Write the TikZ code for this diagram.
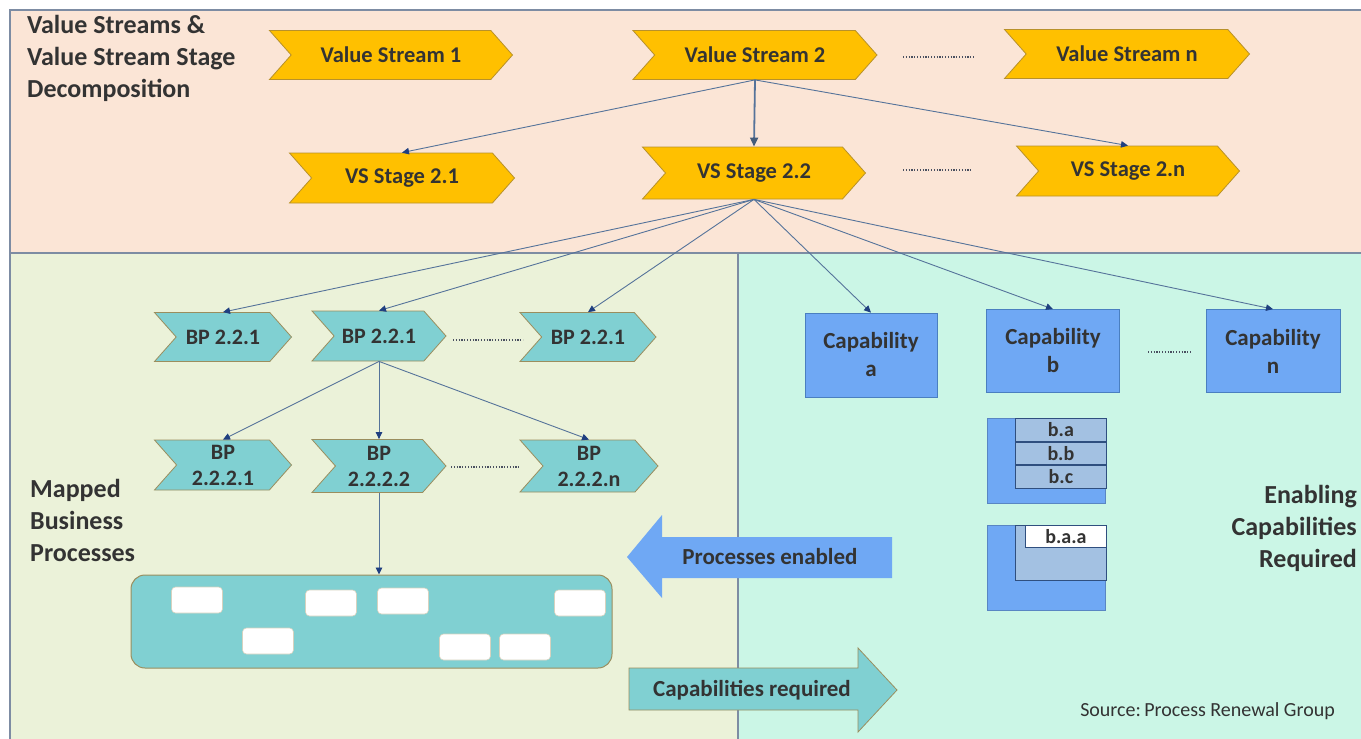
\documentclass[tikz,border=0pt]{standalone}
\usepackage{fontspec}
\setmainfont{Carlito}
\usetikzlibrary{shapes.symbols,arrows.meta}
\definecolor{peach}{HTML}{FBE5D6}
\definecolor{lgreen}{HTML}{EBF2D9}
\definecolor{mint}{HTML}{CBF6E6}
\definecolor{gold}{HTML}{FFC000}
\definecolor{goldline}{HTML}{B8912A}
\definecolor{tealf}{HTML}{80D0D2}
\definecolor{tealline}{HTML}{9A8E5E}
\definecolor{capblue}{HTML}{6FA8F4}
\definecolor{capline}{HTML}{4A7FC0}
\definecolor{subblue}{HTML}{A3C1E2}
\definecolor{subline}{HTML}{2F4F7F}
\definecolor{conn}{HTML}{55739A}
\definecolor{tipc}{HTML}{1F3F80}
\definecolor{framec}{HTML}{7D8CA3}
\definecolor{txt}{HTML}{333333}
\definecolor{dotc}{HTML}{4A5060}
\begin{document}
\begin{tikzpicture}[x=1pt,y=-1pt,
  chev/.style={signal, signal to=east, signal from=west, signal pointer angle=97,
    draw, inner sep=0pt, line width=0.8pt, text=txt, align=center},
  vschev/.style={chev, fill=gold, draw=goldline, font=\bfseries\fontsize{22.5}{26}\selectfont},
  bpchev/.style={chev, fill=tealf, draw=tealline, font=\bfseries\fontsize{22}{26}\selectfont},
  capbox/.style={draw=capline, fill=capblue, line width=0.8pt, minimum width=132pt,
    minimum height=84pt, inner sep=0pt, text=txt, align=center,
    font=\bfseries\fontsize{23}{28}\selectfont},
  wbox/.style={draw=tealline!40, fill=white, rounded corners=4pt, minimum width=51pt,
    minimum height=26pt, inner sep=0pt, line width=0.6pt},
  subbox/.style={draw=subline, fill=subblue, line width=0.8pt, inner sep=0pt,
    text=txt, font=\bfseries\fontsize{20}{20}\selectfont},
  conn/.style={draw=conn, line width=0.9pt, -{Triangle[length=7pt,width=6.5pt,color=tipc]}},
  dots/.style={draw=dotc, line width=2pt, dash pattern=on 1.2pt off 1.6pt},
  head/.style={text=txt, align=left, inner sep=0pt, font=\bfseries\fontsize{26}{32}\selectfont},
  lbl/.style={text=txt, inner sep=0pt, font=\bfseries\fontsize{23}{26}\selectfont}
]
\useasboundingbox (0,0) rectangle (1361,739);
% backgrounds
\fill[peach] (10,10) rectangle (1361,253);
\fill[lgreen] (10,253) rectangle (738,739);
\fill[mint] (738,253) rectangle (1361,739);
\draw[framec, line width=1.2pt] (1361,10) -- (10,10) -- (10,739);
\draw[framec, line width=1.2pt] (10,253) -- (1361,253);
\draw[framec, line width=1.2pt] (738,253) -- (738,739);

% headings
\node[head, anchor=north west] (h1) at (27,15) {Value Streams \&\\Value Stream Stage\\Decomposition};
\node[head, anchor=north west] (h2) at (30,479) {Mapped\\Business\\Processes};
\node[head, anchor=north east, align=right] (h3) at (1357,485) {Enabling\\Capabilities\\Required};
\node[text=txt, inner sep=0pt, anchor=east, font=\fontsize{20}{22}\selectfont] (src) at (1335,711) {Source:\,Process Renewal Group};

% value streams
\node[vschev, minimum width=243pt, minimum height=49pt] (vs1) at (391,55) {Value Stream 1};
\node[vschev, minimum width=244pt, minimum height=49pt] (vs2) at (755,55) {Value Stream 2};
\node[vschev, minimum width=245pt, minimum height=49pt] (vsn) at (1127,54) {Value Stream n};
\node[vschev, minimum width=225pt, minimum height=50pt] (st1) at (402,178) {VS Stage 2.1};
\node[vschev, minimum width=223pt, minimum height=52pt] (st2) at (754,173) {VS Stage 2.2};
\node[vschev, minimum width=223pt, minimum height=50pt] (stn) at (1128,171) {VS Stage 2.n};

\coordinate (d1a) at (903,57); \coordinate (d1b) at (975,57);
\coordinate (d2a) at (903,170); \coordinate (d2b) at (971,170);
\draw[dots] (d1a) -- (d1b);
\draw[dots] (d2a) -- (d2b);

% business processes
\node[bpchev, minimum width=137pt, minimum height=49pt] (bp1) at (223,337) {BP 2.2.1};
\node[bpchev, minimum width=134pt, minimum height=50pt] (bp2) at (379,336) {BP 2.2.1};
\node[bpchev, minimum width=136pt, minimum height=49pt] (bp3) at (588,337) {BP 2.2.1};
\node[bpchev, minimum width=137pt, minimum height=50pt] (bq1) at (223,465) {BP\\2.2.2.1};
\node[bpchev, minimum width=134pt, minimum height=53pt] (bq2) at (379,466) {BP\\2.2.2.2};
\node[bpchev, minimum width=138pt, minimum height=52pt] (bq3) at (589,466) {BP\\2.2.2.n};
\coordinate (d3a) at (453,340); \coordinate (d3b) at (523,340);
\coordinate (d4a) at (451,467); \coordinate (d4b) at (520,467);
\draw[dots] (d3a) -- (d3b);
\draw[dots] (d4a) -- (d4b);

% process container
\node[draw=tealline, fill=tealf, rounded corners=14pt, line width=1pt,
  minimum width=481pt, minimum height=93pt, inner sep=0pt] (cont) at (371.5,621.5) {};
\node[wbox] (w1) at (197,600) {};
\node[wbox] (w2) at (331,603) {};
\node[wbox] (w3) at (403,601) {};
\node[wbox] (w4) at (580,603) {};
\node[wbox] (w5) at (268,641) {};
\node[wbox] (w6) at (465,647) {};
\node[wbox] (w7) at (525,647) {};

% capabilities
\node[capbox] (capa) at (871,355) {Capability\\a};
\node[capbox, minimum width=133pt, minimum height=83pt] (capb) at (1053,351) {Capability\\b};
\node[capbox, minimum width=134pt, minimum height=83pt] (capn) at (1273,351) {Capability\\n};
\coordinate (d5a) at (1148,352); \coordinate (d5b) at (1191,352);
\draw[dots] (d5a) -- (d5b);

% sub-capabilities b
\node[fill=capblue, draw=capblue!80!black, line width=0.6pt, minimum width=118pt,
  minimum height=85pt, inner sep=0pt, anchor=north west] (sb1) at (987,418) {};
\node[subbox, minimum width=91pt, minimum height=23pt, anchor=north west] (ba) at (1015,418) {b.a};
\node[subbox, minimum width=91pt, minimum height=22pt, anchor=north west] (bb) at (ba.south west) {b.b};
\node[subbox, minimum width=91pt, minimum height=23pt, anchor=north west] (bc) at (bb.south west) {b.c};

\node[fill=capblue, draw=capblue!80!black, line width=0.6pt, minimum width=118pt,
  minimum height=85pt, inner sep=0pt, anchor=north west] (sb2) at (987,525) {};
\node[subbox, minimum width=91pt, minimum height=55pt, anchor=north west] (bg) at (1015,525) {};
\node[subbox, fill=white, minimum width=81pt, minimum height=22pt, anchor=north east] (baa) at (bg.north east) {b.a.a};

% big arrows
\fill[capblue] (892,537) -- (662,537) -- (662,515) -- (627,557) -- (662,598) -- (662,578) -- (892,578) -- cycle;
\node[lbl] (pe) at (770,557) {Processes enabled};
\draw[fill=tealf, draw=tealline, line width=0.8pt] (629,668) -- (858,668) -- (858,648) -- (897,690) -- (858,732) -- (858,710) -- (629,710) -- cycle;
\node[lbl] (cr) at (752,690) {Capabilities required};

% connectors
\draw[conn] (vs2.south) -- (st1.north);
\draw[conn, line width=1.8pt, -{Triangle[length=9pt,width=8pt,color=conn!80!black]}] (vs2.south) -- (st2.north);
\draw[conn] (vs2.south) -- (stn.north);
\draw[conn] (st2.south) -- (bp1.north);
\draw[conn] (st2.south) -- (bp2.north);
\draw[conn] (st2.south) -- (bp3.north);
\draw[conn] (st2.south) -- (capa.north);
\draw[conn] (st2.south) -- (capb.north);
\draw[conn] (st2.south) -- (capn.north);
\draw[conn] (bp2.south) -- (bq1.north);
\draw[conn] (bp2.south) -- (bq2.north);
\draw[conn] (bp2.south) -- (bq3.north);
\draw[conn] (bq2.south) -- (bq2.south |- cont.north);
\end{tikzpicture}
\end{document}
